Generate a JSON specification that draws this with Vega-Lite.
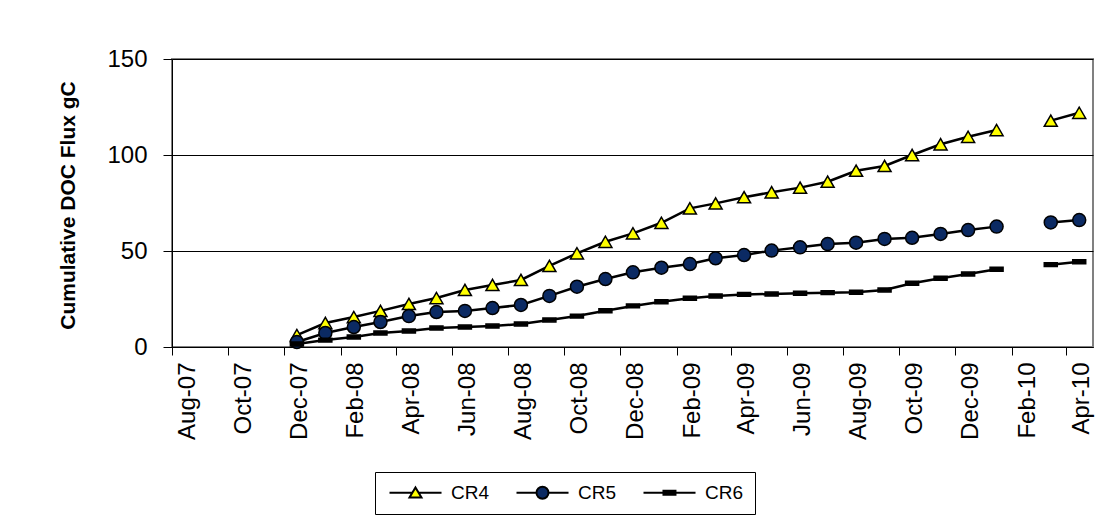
{
  "$schema": "https://vega.github.io/schema/vega-lite/v6.json",
  "width": 921,
  "height": 288,
  "autosize": {"type": "none"},
  "padding": {"left": 172, "top": 59, "right": 17, "bottom": 171},
  "background": "white",
  "config": {
    "font": "Liberation Sans",
    "view": {"stroke": "#808080", "strokeWidth": 2}
  },
  "data": {
    "values": [
      {"date": "2007-12-15", "CR4": 6.2, "CR5": 2.6, "CR6": 1.6},
      {"date": "2008-01-15", "CR4": 12.5, "CR5": 7.3, "CR6": 3.6},
      {"date": "2008-02-15", "CR4": 15.6, "CR5": 10.4, "CR6": 5.2},
      {"date": "2008-03-15", "CR4": 18.8, "CR5": 13.0, "CR6": 7.3},
      {"date": "2008-04-15", "CR4": 22.4, "CR5": 16.1, "CR6": 8.3},
      {"date": "2008-05-15", "CR4": 25.5, "CR5": 18.2, "CR6": 9.9},
      {"date": "2008-06-15", "CR4": 29.7, "CR5": 18.8, "CR6": 10.4},
      {"date": "2008-07-15", "CR4": 32.3, "CR5": 20.3, "CR6": 10.9},
      {"date": "2008-08-15", "CR4": 34.9, "CR5": 21.9, "CR6": 12.0},
      {"date": "2008-09-15", "CR4": 42.2, "CR5": 26.6, "CR6": 14.1},
      {"date": "2008-10-15", "CR4": 48.8, "CR5": 31.4, "CR6": 16.1},
      {"date": "2008-11-15", "CR4": 54.8, "CR5": 35.4, "CR6": 18.9},
      {"date": "2008-12-15", "CR4": 59.2, "CR5": 38.9, "CR6": 21.4},
      {"date": "2009-01-15", "CR4": 64.7, "CR5": 41.3, "CR6": 23.6},
      {"date": "2009-02-15", "CR4": 72.2, "CR5": 43.2, "CR6": 25.4},
      {"date": "2009-03-15", "CR4": 74.8, "CR5": 46.2, "CR6": 26.6},
      {"date": "2009-04-15", "CR4": 78.0, "CR5": 47.9, "CR6": 27.4},
      {"date": "2009-05-15", "CR4": 80.6, "CR5": 50.2, "CR6": 27.6},
      {"date": "2009-06-15", "CR4": 83.0, "CR5": 51.9, "CR6": 28.0},
      {"date": "2009-07-15", "CR4": 86.1, "CR5": 53.6, "CR6": 28.3},
      {"date": "2009-08-15", "CR4": 91.8, "CR5": 54.3, "CR6": 28.5},
      {"date": "2009-09-15", "CR4": 94.3, "CR5": 56.3, "CR6": 29.7},
      {"date": "2009-10-15", "CR4": 100.0, "CR5": 56.9, "CR6": 33.2},
      {"date": "2009-11-15", "CR4": 105.6, "CR5": 58.9, "CR6": 35.8},
      {"date": "2009-12-15", "CR4": 109.5, "CR5": 60.9, "CR6": 38.0},
      {"date": "2010-01-15", "CR4": 113.0, "CR5": 62.7, "CR6": 40.5},
      {"date": "2010-02-15", "CR4": null, "CR5": null, "CR6": null},
      {"date": "2010-03-15", "CR4": 117.9, "CR5": 64.9, "CR6": 42.9},
      {"date": "2010-04-15", "CR4": 122.0, "CR5": 66.1, "CR6": 44.4}
    ]
  },
  "transform": [{"fold": ["CR4", "CR5", "CR6"], "as": ["series", "value"]}],
  "encoding": {
    "x": {
      "field": "date",
      "type": "temporal",
      "scale": {
        "type": "utc",
        "domain": [
          {"year": 2007, "month": 8, "date": 1, "utc": true},
          {"year": 2010, "month": 4, "date": 30, "utc": true}
        ]
      },
      "axis": {
        "title": null,
        "grid": false,
        "values": [
          {"year": 2007, "month": 8, "date": 1, "utc": true},
          {"year": 2007, "month": 10, "date": 1, "utc": true},
          {"year": 2007, "month": 12, "date": 1, "utc": true},
          {"year": 2008, "month": 2, "date": 1, "utc": true},
          {"year": 2008, "month": 4, "date": 1, "utc": true},
          {"year": 2008, "month": 6, "date": 1, "utc": true},
          {"year": 2008, "month": 8, "date": 1, "utc": true},
          {"year": 2008, "month": 10, "date": 1, "utc": true},
          {"year": 2008, "month": 12, "date": 1, "utc": true},
          {"year": 2009, "month": 2, "date": 1, "utc": true},
          {"year": 2009, "month": 4, "date": 1, "utc": true},
          {"year": 2009, "month": 6, "date": 1, "utc": true},
          {"year": 2009, "month": 8, "date": 1, "utc": true},
          {"year": 2009, "month": 10, "date": 1, "utc": true},
          {"year": 2009, "month": 12, "date": 1, "utc": true},
          {"year": 2010, "month": 2, "date": 1, "utc": true},
          {"year": 2010, "month": 4, "date": 1, "utc": true}
        ],
        "labelExpr": "utcFormat(datum.value, '%b-%y')",
        "labelAngle": 270,
        "labelAlign": "right",
        "labelBaseline": "middle",
        "labelOffset": 15,
        "labelPadding": 7,
        "labelFontSize": 24,
        "labelColor": "black",
        "labelOverlap": false,
        "labelFlush": false,
        "tickSize": 8,
        "tickColor": "black",
        "domainColor": "black"
      }
    },
    "y": {
      "field": "value",
      "type": "quantitative",
      "scale": {"domain": [0, 150], "nice": false},
      "axis": {
        "title": "Cumulative DOC Flux gC",
        "titleFontSize": 21,
        "titleFontWeight": "bold",
        "titleColor": "black",
        "titleX": -104,
        "titleY": 146,
        "titleAngle": 270,
        "titleAlign": "center",
        "titleBaseline": "middle",
        "values": [0, 50, 100, 150],
        "labelFontSize": 24,
        "labelColor": "black",
        "labelPadding": 16,
        "tickSize": 9,
        "tickColor": "black",
        "domainColor": "black",
        "gridColor": "black",
        "gridWidth": 1
      }
    }
  },
  "layer": [
    {
      "mark": {"type": "line", "color": "black", "strokeWidth": 2.5, "invalid": "break-paths-filter-domains"},
      "encoding": {"detail": {"field": "series"}}
    },
    {
      "mark": {"type": "point", "filled": true, "stroke": "black", "strokeWidth": 1.5, "opacity": 1, "size": 169},
      "encoding": {
        "shape": {
          "field": "series",
          "scale": {"domain": ["CR4", "CR5", "CR6"], "range": ["triangle-up", "circle", "M-1,-0.3H1V0.3H-1Z"]},
          "legend": null
        },
        "fill": {
          "field": "series",
          "scale": {"domain": ["CR4", "CR5", "CR6"], "range": ["#FFFF00", "#0B2A63", "#000000"]},
          "legend": null
        }
      }
    },
    {
      "transform": [{"filter": "false"}],
      "mark": {"type": "point", "filled": true, "stroke": "black", "strokeWidth": 1.5, "opacity": 1},
      "encoding": {
        "shape": {
          "field": "series",
          "scale": {
            "domain": ["CR4", "CR5", "CR6"],
            "range": [
              "M-1,0H2.83M3.83,0H7.67M3.33,-0.87L4.33,0.8L2.33,0.8Z",
              "M-1,0H2.33M4.33,0H7.67M2.33,0A1,1,0,1,1,4.33,0A1,1,0,1,1,2.33,0Z",
              "M-1,0H2.33M4.33,0H7.67M2.33,-0.35H4.33V0.35H2.33Z"
            ]
          },
          "legend": {
            "title": null,
            "orient": "none",
            "legendX": 203,
            "legendY": 413,
            "direction": "horizontal",
            "symbolSize": 144,
            "symbolStrokeColor": "black",
            "symbolStrokeWidth": 2,
            "symbolOpacity": 1,
            "labelFontSize": 19,
            "labelColor": "black",
            "labelOffset": 46,
            "columnPadding": 22,
            "padding": 11,
            "strokeColor": "black",
            "encode": {
              "symbols": {
                "update": {
                  "stroke": {"value": "black"},
                  "strokeWidth": {"value": 2},
                  "opacity": {"value": 1},
                  "strokeOpacity": {"value": 1}
                }
              }
            }
          }
        },
        "fill": {
          "field": "series",
          "scale": {"domain": ["CR4", "CR5", "CR6"], "range": ["#FFFF00", "#0B2A63", "#000000"]},
          "legend": {
            "title": null,
            "orient": "none",
            "legendX": 203,
            "legendY": 413,
            "direction": "horizontal",
            "symbolSize": 144,
            "symbolStrokeColor": "black",
            "symbolStrokeWidth": 2,
            "symbolOpacity": 1,
            "labelFontSize": 19,
            "labelColor": "black",
            "labelOffset": 46,
            "columnPadding": 22,
            "padding": 11,
            "strokeColor": "black",
            "encode": {
              "symbols": {
                "update": {
                  "stroke": {"value": "black"},
                  "strokeWidth": {"value": 2},
                  "opacity": {"value": 1},
                  "strokeOpacity": {"value": 1}
                }
              }
            }
          }
        }
      }
    }
  ],
  "resolve": {"scale": {"shape": "independent", "fill": "independent"}}
}
